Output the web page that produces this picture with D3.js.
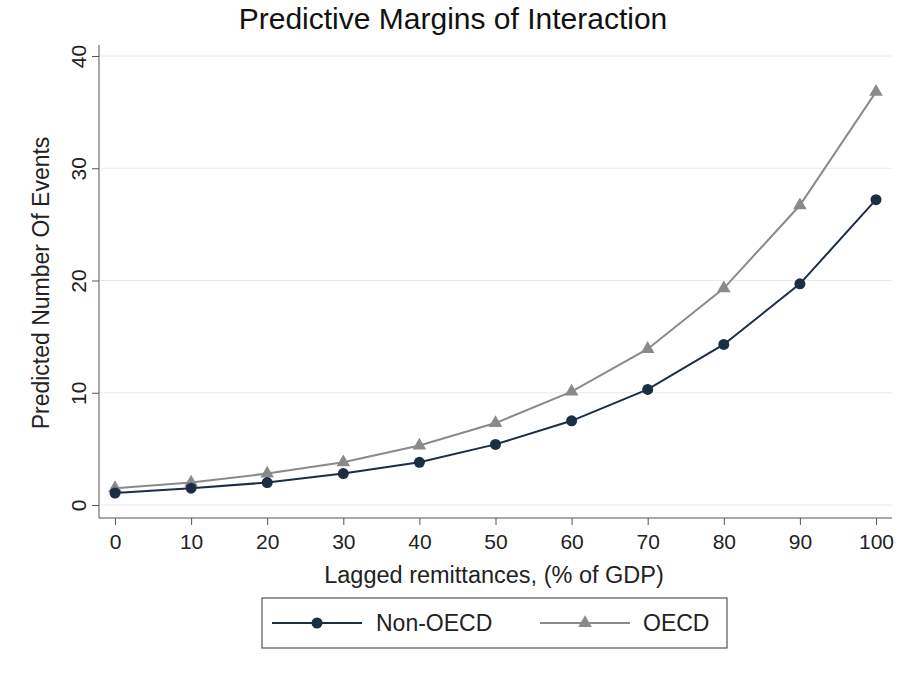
<!DOCTYPE html><html><head><script src="https://cdn.jsdelivr.net/npm/d3@7"></script>
<style>body{margin:0;background:#fff}text{font-family:"Liberation Sans",Arial,sans-serif}</style></head><body><svg id="c" width="906" height="675"></svg><script>
const xValues=[0,10,20,30,40,50,60,70,80,90,100];
const nonOECD=[1.07,1.5,2.0,2.8,3.8,5.4,7.5,10.3,14.3,19.7,27.2];
const oecd=[1.5,2.0,2.8,3.8,5.3,7.3,10.1,13.9,19.3,26.7,36.8];
const yTicks=[0,10,20,30,40];
const svg=d3.select("#c");
const x=d3.scaleLinear().domain([0,100]).range([115,876]);
const y=d3.scaleLinear().domain([0,40]).range([505,56]);
svg.append("g").selectAll("line").data(yTicks).join("line").attr("x1",100).attr("x2",892).attr("y1",d=>y(d)).attr("y2",d=>y(d)).attr("stroke","#eaeaea");
const xa=svg.append("g").attr("transform","translate(0,518)").call(d3.axisBottom(x).tickValues(xValues).tickSize(7).tickSizeOuter(0));
xa.select(".domain").attr("d","M99,0H892");
const ya=svg.append("g").attr("transform","translate(99,0)").call(d3.axisLeft(y).tickValues(yTicks).tickSize(7).tickSizeOuter(0));
ya.select(".domain").attr("d","M0,45V518");
ya.selectAll("text").attr("transform","rotate(-90)").attr("x",0).attr("y",-13).attr("dy",0).attr("text-anchor","middle");
svg.selectAll(".tick text").attr("font-size",21).attr("fill","#222");
svg.selectAll(".tick line,.domain").attr("stroke","#555");
xa.selectAll("text").attr("dy","1.0em");
svg.append("text").attr("x",453).attr("y",29).attr("text-anchor","middle").attr("font-size",30).attr("fill","#111").text("Predictive Margins of Interaction");
svg.append("text").attr("x",494).attr("y",583).attr("text-anchor","middle").attr("font-size",23.5).attr("fill","#222").text("Lagged remittances, (% of GDP)");
svg.append("text").attr("transform","translate(49,283) rotate(-90)").attr("text-anchor","middle").attr("font-size",23).attr("fill","#222").text("Predicted Number Of Events");
const line=d3.line().x((d,i)=>x(xValues[i])).y(d=>y(d));
const tri=d3.symbol().type(d3.symbolTriangle).size(80);
svg.append("path").attr("d",line(oecd)).attr("fill","none").attr("stroke","#8a8a8a").attr("stroke-width",2);
svg.append("g").selectAll("path").data(oecd).join("path").attr("d",tri).attr("transform",(d,i)=>`translate(${x(xValues[i])},${y(d)})`).attr("fill","#8a8a8a");
svg.append("path").attr("d",line(nonOECD)).attr("fill","none").attr("stroke","#1c2e42").attr("stroke-width",2);
svg.append("g").selectAll("circle").data(nonOECD).join("circle").attr("cx",(d,i)=>x(xValues[i])).attr("cy",d=>y(d)).attr("r",5.5).attr("fill","#1c2e42");
const lg=svg.append("g");
lg.append("rect").attr("x",262).attr("y",598).attr("width",465).attr("height",50).attr("fill","#fff").attr("stroke","#333");
lg.append("line").attr("x1",272).attr("x2",362).attr("y1",623).attr("y2",623).attr("stroke","#1c2e42").attr("stroke-width",2);
lg.append("circle").attr("cx",317).attr("cy",623).attr("r",5.5).attr("fill","#1c2e42");
lg.append("text").attr("x",376).attr("y",631).attr("font-size",23).attr("fill","#222").text("Non-OECD");
lg.append("line").attr("x1",540).attr("x2",630).attr("y1",623).attr("y2",623).attr("stroke","#8a8a8a").attr("stroke-width",2);
lg.append("path").attr("d",tri).attr("transform","translate(585,623)").attr("fill","#8a8a8a");
lg.append("text").attr("x",643).attr("y",631).attr("font-size",23).attr("fill","#222").text("OECD");
</script></body></html>
